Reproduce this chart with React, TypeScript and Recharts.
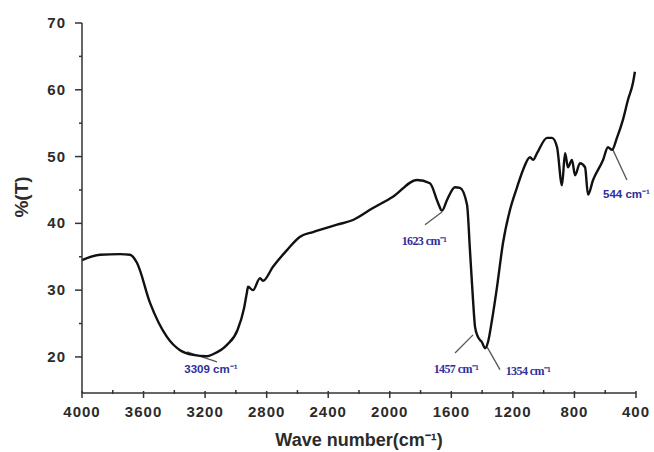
import React from 'react';
import { LineChart, Line, XAxis, YAxis, ReferenceLine, ReferenceDot } from 'recharts';

// wave number (cm-1) left to right
const waveNumbers = [
  4000, 3883, 3753, 3688, 3643, 3558, 3448, 3363, 3279, 3188, 3149, 3058, 2990, 2947, 2928, 2921,
  2889, 2843, 2824, 2759, 2668, 2583, 2499, 2343, 2239, 2109, 1979, 1823, 1739, 1687, 1661, 1628,
  1576, 1544, 1498, 1479, 1459, 1446, 1427, 1401, 1381, 1362, 1336, 1303, 1264, 1219, 1173, 1134,
  1089, 1069, 1043, 978, 946, 913, 881, 861, 842, 816, 796, 764, 731, 712, 679, 614, 582, 556, 524,
  485, 452, 420, 407,
];

// transmittance (%T)
const transmittance = [
  34.5, 35.3, 35.4, 35.3, 34.1, 28.1, 23.0, 21.0, 20.3, 20.1, 20.4, 21.8, 24.0, 27.3, 29.7, 30.5,
  30.0, 31.8, 31.4, 33.5, 36.0, 38.0, 38.7, 39.8, 40.5, 42.3, 44.0, 46.5, 46.0, 43.1, 41.9, 43.5,
  45.4, 45.3, 42.8, 36.0, 28.5, 24.5, 23.0, 22.2, 21.3, 22.2, 25.5, 30.5, 37.1, 42.0, 45.4, 48.0,
  49.9, 49.5, 50.5, 52.8, 52.8, 51.4, 45.7, 50.5, 48.4, 49.5, 47.2, 49.0, 48.4, 44.3, 46.5, 49.5,
  51.4, 51.0, 52.8, 55.5, 58.5, 61.0, 62.7,
];

const xMajorTicks = [4000, 3600, 3200, 2800, 2400, 2000, 1600, 1200, 800, 400];
const xMinorTicks = [3800, 3400, 3000, 2600, 2200, 1800, 1400, 1000, 600];
const yMajorTicks = [20, 30, 40, 50, 60, 70];
const yMinorTicks = [25, 35, 45, 55, 65];

// peak labels: text, anchor of text, leader line from/to
const peakLabels = ['3309 cm⁻¹', '1623 cm⁻¹', '1457 cm⁻¹', '1354 cm⁻¹', '544 cm⁻¹'];
const labelWave = [3162, 1778, 1570, 1102, 462];
const labelT = [17.6, 36.8, 17.6, 17.3, 43.8];
const labelSerif = [false, true, true, true, false];
const leaderFrom = [[3318, 20.75], [1661, 41.7], [1459, 23.3], [1368, 21.5], [556, 51.3]];
const leaderTo = [[3123, 19.25], [1771, 39.8], [1576, 20.6], [1284, 18.1], [459, 46.5]];

const data = waveNumbers.map((w, i) => ({ w, t: transmittance[i] }));

const AXIS = '#333';
const SANS = '"Liberation Sans", Arial, sans-serif';

const XTick = (props: any) => {
  const { x, y, payload } = props;
  const major = xMajorTicks.includes(payload.value);
  return (
    <g>
      <line x1={x} x2={x} y1={major ? y - 2 : y - 3} y2={major ? y + 5 : y + 1} stroke={AXIS} strokeWidth={1.5} />
      {major && (
        <text x={x} y={y + 24} textAnchor="middle" fontFamily={SANS} fontWeight="bold" fontSize={15}
          letterSpacing={1} fill="#2b2b2b">
          {payload.value}
        </text>
      )}
    </g>
  );
};

const YTick = (props: any) => {
  const { x, y, payload } = props;
  const major = yMajorTicks.includes(payload.value);
  return (
    <g>
      <line x1={major ? x - 7 : x - 3} x2={x} y1={y} y2={y} stroke={AXIS} strokeWidth={1.5} />
      {major && (
        <text x={x - 16} y={y + 5} textAnchor="end" fontFamily={SANS} fontWeight="bold" fontSize={15}
          letterSpacing={1} fill="#2b2b2b">
          {payload.value}
        </text>
      )}
    </g>
  );
};

export default function App() {
  return (
    <div style={{ position: 'absolute', left: 0, top: 0, background: '#fff' }}>
      <LineChart width={654} height={452} data={data} margin={{ top: 23, right: 18, bottom: 0, left: 0 }}>
        <XAxis
          dataKey="w"
          type="number"
          domain={[400, 4000]}
          reversed
          ticks={[...xMajorTicks, ...xMinorTicks]}
          interval={0}
          height={59}
          tickSize={0}
          tickMargin={0}
          tickLine={false}
          axisLine={{ stroke: AXIS, strokeWidth: 1.5 }}
          tick={(p: any) => <XTick {...p} />}
          label={{
            value: 'Wave number(cm⁻¹)',
            position: 'insideBottom',
            offset: 6,
            fontFamily: SANS,
            fontWeight: 'bold',
            fontSize: 18,
            fill: '#2b2b2b',
          }}
        />
        <YAxis
          type="number"
          domain={[14.6, 70]}
          allowDataOverflow
          ticks={[...yMajorTicks, ...yMinorTicks]}
          interval={0}
          width={82}
          tickSize={0}
          tickMargin={0}
          tickLine={false}
          axisLine={{ stroke: AXIS, strokeWidth: 1.5 }}
          tick={(p: any) => <YTick {...p} />}
          label={{
            content: (p: any) => {
              const vb = p.viewBox;
              const cx = vb.x + 21;
              const cy = vb.y + vb.height / 2 - 11;
              return (
                <text x={cx} y={cy} transform={`rotate(-90 ${cx} ${cy})`} textAnchor="middle"
                  dominantBaseline="central" fontFamily={SANS} fontWeight="bold" fontSize={19} fill="#2b2b2b">
                  %(T)
                </text>
              );
            },
          }}
        />
        {peakLabels.map((_, i) => (
          <ReferenceLine
            key={`lead-${i}`}
            segment={[
              { x: leaderFrom[i][0], y: leaderFrom[i][1] },
              { x: leaderTo[i][0], y: leaderTo[i][1] },
            ]}
            stroke="#555"
            strokeWidth={1.3}
          />
        ))}
        <Line type="monotone" dataKey="t" stroke="#111" strokeWidth={2.4} dot={false} isAnimationActive={false} />
        {peakLabels.map((txt, i) => (
          <ReferenceDot
            key={`lbl-${i}`}
            x={labelWave[i]}
            y={labelT[i]}
            r={0}
            shape={(p: any) => (
              <text
                x={p.cx}
                y={p.cy}
                textAnchor="middle"
                fontFamily={labelSerif[i] ? '"Liberation Serif", "Times New Roman", serif' : SANS}
                fontWeight="bold"
                fontSize={labelSerif[i] ? 12 : 11.5}
                letterSpacing={labelSerif[i] ? -0.6 : 0}
                fill="#2f2f9a"
              >
                {txt}
              </text>
            )}
          />
        ))}
      </LineChart>
    </div>
  );
}
